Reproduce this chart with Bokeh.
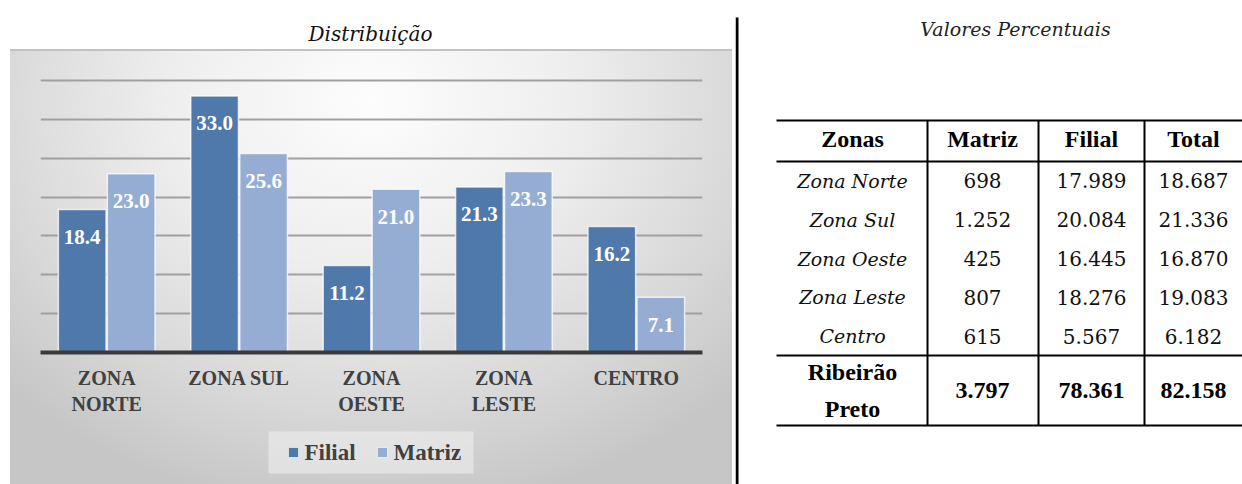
from bokeh.plotting import figure
from bokeh.models import (ColumnDataSource, FactorRange, Range1d, FixedTicker,
                          InlineStyleSheet, GlobalInlineStyleSheet)
from bokeh.transform import dodge
from bokeh.layouts import row, column
from bokeh.embed import file_html
from bokeh.resources import INLINE
from bokeh.core.properties import value

# ---------------- data ----------------
zonas_chart = ["ZONA\nNORTE", "ZONA SUL", "ZONA\nOESTE", "ZONA\nLESTE", "CENTRO"]
filial_pct = [18.4, 33.0, 11.2, 21.3, 16.2]
matriz_pct = [23.0, 25.6, 21.0, 23.3, 7.1]
y_ticks = [5, 10, 15, 20, 25, 30, 35]
series_names = ["Filial", "Matriz"]

headers = ["Zonas", "Matriz", "Filial", "Total"]
zonas_tab = ["Zona Norte", "Zona Sul", "Zona Oeste", "Zona Leste", "Centro"]
matriz_abs = ["698", "1.252", "425", "807", "615"]
filial_abs = ["17.989", "20.084", "16.445", "18.276", "5.567"]
total_abs = ["18.687", "21.336", "16.870", "19.083", "6.182"]
total_label = "Ribeirão\nPreto"
total_row = ["3.797", "78.361", "82.158"]

SERIF_B = "Liberation Serif"      # bold texts
SERIF_R = "DejaVu Serif"          # regular / italic texts
C_FILIAL = "#4f79ab"
C_MATRIZ = "#95add3"
series_colors = [C_FILIAL, C_MATRIZ]
C_TEXT = "#404040"

page_css = GlobalInlineStyleSheet(css="html, body { margin: 0 !important; padding: 0; overflow: hidden; }")
bg_css = InlineStyleSheet(css="""
:host {
  background-image: linear-gradient(#c2c2c2, #c2c2c2),
    radial-gradient(ellipse 70% 95% at 50% 12%, #fdfdfd 0%, #eeeeee 40%, #d8d8d8 75%, #c6c6c6 100%);
  background-repeat: no-repeat, no-repeat;
  background-position: 10px 49px, 10px 49px;
  background-size: 722px 2px, 722px 435px;
}
""")

# horizontal geometry shared by the three stacked pieces of the chart
BL, FW, BR = 40, 662, 33
common = dict(output_backend="svg", toolbar_location=None,
              background_fill_color=None, border_fill_color=None, outline_line_color=None)
strip = dict(frame_width=FW, min_border_left=BL, min_border_right=BR,
             min_border_top=0, min_border_bottom=0,
             x_axis_location=None, y_axis_location=None)
X_PAGE = Range1d(BL, BL + FW)   # x measured in pixels from the left of the chart block

# ---------------- chart title ----------------
tf = figure(frame_height=49, x_range=X_PAGE, y_range=Range1d(0, 49), **strip, **common)
tf.grid.visible = False
tf.text(x=[370], y=[16], text=["Distribuição"], text_font=value(SERIF_R),
        text_font_style="italic", text_font_size="20px", text_color="#111111",
        text_align="center", text_baseline="middle")

# ---------------- chart ----------------
src = ColumnDataSource(dict(
    cat=zonas_chart, filial=filial_pct, matriz=matriz_pct,
    filial_lbl=[f"{v:.1f}" for v in filial_pct],
    matriz_lbl=[f"{v:.1f}" for v in matriz_pct],
))

p = figure(x_range=FactorRange(factors=zonas_chart, range_padding=0),
           y_range=Range1d(0, 35.25),
           frame_width=FW, frame_height=274,
           min_border_left=BL, min_border_right=BR, min_border_top=29, min_border_bottom=68,
           **common)

p.vbar(x=dodge("cat", -0.185, range=p.x_range), top="filial", width=0.36, source=src,
       fill_color=C_FILIAL, line_color="#ffffff", line_alpha=0.75, line_width=1.5)
p.vbar(x=dodge("cat", 0.185, range=p.x_range), top="matriz", width=0.36, source=src,
       fill_color=C_MATRIZ, line_color="#ffffff", line_alpha=0.75, line_width=1.5)

p.text(x=dodge("cat", -0.185, range=p.x_range), y="filial", text="filial_lbl", source=src,
       text_font=value(SERIF_B), text_font_style="bold", text_font_size="21px",
       text_color="white", text_align="center", text_baseline="alphabetic", y_offset=27.5)
p.text(x=dodge("cat", 0.185, range=p.x_range), y="matriz", text="matriz_lbl", source=src,
       text_font=value(SERIF_B), text_font_style="bold", text_font_size="21px",
       text_color="white", text_align="center", text_baseline="alphabetic", y_offset=27.5)

p.yaxis.visible = False
p.xgrid.visible = False
p.ygrid.ticker = FixedTicker(ticks=y_ticks)
p.ygrid.grid_line_color = "#a0a0a0"
p.ygrid.grid_line_width = 2

xa = p.xaxis[0]
xa.axis_line_width = 4
xa.axis_line_color = "#3a3a3a"
xa.major_tick_line_color = None
xa.minor_tick_line_color = None
xa.major_label_standoff = 8
xa.major_label_text_font = SERIF_B
xa.major_label_text_font_style = "bold"
xa.major_label_text_font_size = "20px"
xa.major_label_text_color = C_TEXT

# ---------------- legend strip ----------------
lf = figure(frame_height=64, x_range=Range1d(BL, BL + FW), y_range=Range1d(0, 64),
            **strip, **common)
lf.grid.visible = False
lf.quad(left=[268], right=[473], bottom=[11], top=[53],
        fill_color="#eeeeee", fill_alpha=0.6, line_color=None)
sw_x = [293, 382]
lf.scatter(x=sw_x, y=[32, 32], marker="square", size=10, fill_color=series_colors,
           line_color="#ffffff", line_alpha=0.6, line_width=1)
lf.text(x=[x + 11 for x in sw_x], y=[32, 32], text=series_names, text_font=value(SERIF_B),
        text_font_style="bold", text_font_size="23px", text_color=C_TEXT,
        text_align="left", text_baseline="middle")

left = column(tf, p, lf, spacing=0)
left.stylesheets = [bg_css]

# ---------------- table ----------------
TW, H = 507, 484
t = figure(frame_width=TW, frame_height=H, x_range=Range1d(0, TW), y_range=Range1d(0, H),
           min_border=0, x_axis_location=None, y_axis_location=None, **common)
t.grid.visible = False


def fy(y):
    # layout distance from the top of the table figure -> data y
    return H - y


col_edges = [41, 192, 303, 409, TW]
col_centers = [117, 247, 356, 458]
y_top, y_head, row_h = 120, 161, 38.8
y_total_rule = y_head + row_h * len(zonas_tab)
y_bottom = 425

t.segment(x0=[1.5], y0=[fy(17)], x1=[1.5], y1=[fy(H)], line_color="black", line_width=3)

hy = [fy(v) for v in (y_top, y_head, y_total_rule, y_bottom)]
t.segment(x0=[col_edges[0]] * 4, y0=hy, x1=[col_edges[-1]] * 4, y1=hy,
          line_color="black", line_width=2)
vx = col_edges[1:4]
t.segment(x0=vx, y0=[fy(y_top)] * 3, x1=vx, y1=[fy(y_bottom)] * 3,
          line_color="black", line_width=2)

t.text(x=[280], y=[fy(28)], text=["Valores Percentuais"], text_font=value(SERIF_R),
       text_font_style="italic", text_font_size="19px", text_color="#222222",
       text_align="center", text_baseline="middle")

t.text(x=col_centers, y=[fy(138)] * 4, text=headers, text_font=value(SERIF_B),
       text_font_style="bold", text_font_size="24px", text_color="black",
       text_align="center", text_baseline="middle")

row_y = [fy(y_head + row_h * (i + 0.5)) for i in range(len(zonas_tab))]
t.text(x=[col_centers[0]] * 5, y=row_y, text=zonas_tab, text_font=value(SERIF_R),
       text_font_style="italic", text_font_size="19px", text_color="#111111",
       text_align="center", text_baseline="middle")
for ci, col in zip(col_centers[1:], [matriz_abs, filial_abs, total_abs]):
    t.text(x=[ci] * 5, y=row_y, text=col, text_font=value(SERIF_R), text_font_size="20px",
           text_color="#111111", text_align="center", text_baseline="middle")

ty = fy((y_total_rule + y_bottom) / 2)
t.text(x=[col_centers[0]], y=[ty], text=[total_label], text_font=value(SERIF_B),
       text_font_style="bold", text_font_size="24px", text_color="black",
       text_align="center", text_baseline="middle", text_line_height=1.45)
t.text(x=col_centers[1:], y=[ty] * 3, text=total_row, text_font=value(SERIF_B),
       text_font_style="bold", text_font_size="24px", text_color="black",
       text_align="center", text_baseline="middle")

right = column(t, spacing=0)

layout = row(left, right, spacing=0)
layout.stylesheets = [page_css]
open("out.html", "w").write(file_html(layout, INLINE))
